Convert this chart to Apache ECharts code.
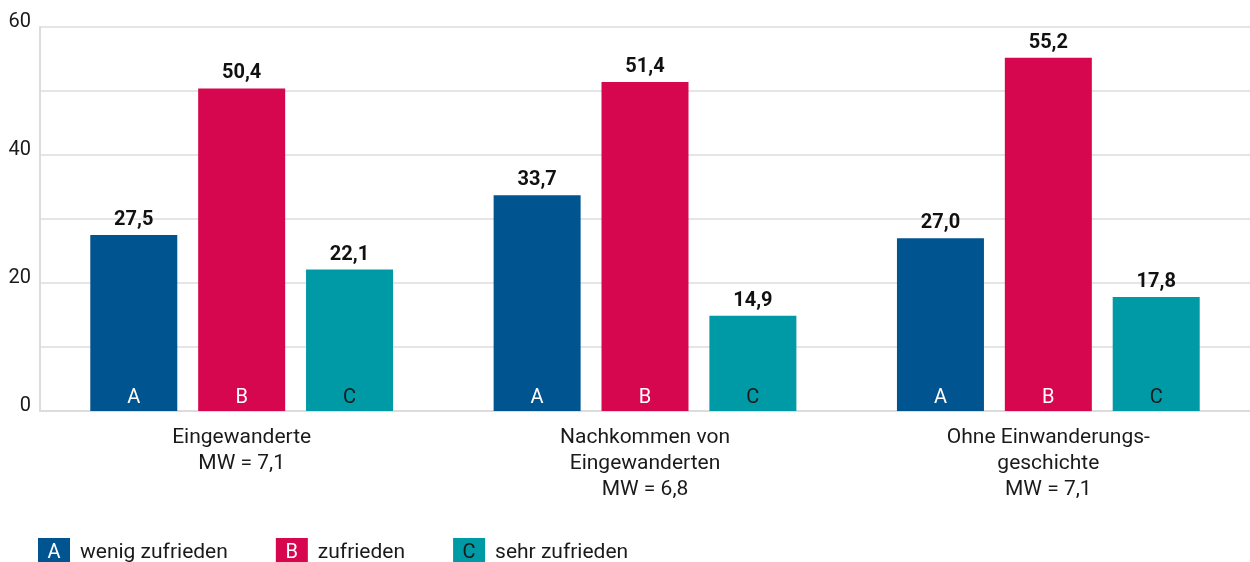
<!DOCTYPE html>
<html>
<head>
<meta charset="utf-8">
<script src="https://cdn.jsdelivr.net/npm/echarts@6/dist/echarts.min.js"></script>
<style>
  html, body { margin: 0; padding: 0; background: #fff; }
  #chart { width: 1250px; height: 562px; }
</style>
</head>
<body>
<div id="chart"></div>
<script>
var categories = ['Eingewanderte\nMW = 7,1', 'Nachkommen von\nEingewanderten\nMW = 6,8', 'Ohne Einwanderungs-\ngeschichte\nMW = 7,1'];
var seriesNames = ['wenig zufrieden', 'zufrieden', 'sehr zufrieden'];
var letters = ['A', 'B', 'C'];
var valuesA = [27.5, 33.7, 27.0];
var valuesB = [50.4, 51.4, 55.2];
var valuesC = [22.1, 14.9, 17.8];
var colors = ['#005591', '#d6064f', '#0099a6'];
var letterColors = ['#ffffff', '#ffffff', '#1a1a1a'];

var chartDom = document.getElementById('chart');
var chart = echarts.init(chartDom);
var option;

var font = 'Roboto';
var allValues = [valuesA, valuesB, valuesC];

// visible bars with the letter at the bottom
var series = allValues.map(function (vals, i) {
  return {
    name: seriesNames[i],
    type: 'bar',
    xAxisIndex: 0,
    data: vals,
    barWidth: 87,
    barGap: '24%',
    itemStyle: { color: colors[i] },
    label: {
      show: true,
      position: 'insideBottom',
      distance: 5,
      formatter: function () { return letters[i]; },
      color: letterColors[i],
      fontFamily: font,
      fontSize: 20,
      lineHeight: 16
    }
  };
});

// same bars on a hidden twin axis, only to carry the value labels
var topSeries = allValues.map(function (vals, i) {
  return {
    name: seriesNames[i] + '_top',
    type: 'bar',
    xAxisIndex: 1,
    data: vals,
    barWidth: 87,
    barGap: '24%',
    itemStyle: { color: 'rgba(0,0,0,0)' },
    silent: true,
    label: {
      show: true,
      position: 'top',
      distance: 5,
      color: '#111',
      fontFamily: font,
      fontWeight: 'bold',
      fontSize: 20,
      formatter: function (p) { return p.value.toFixed(1).replace('.', ','); }
    }
  };
});

var rich = {
  A: { backgroundColor: colors[0], color: '#fff', width: 32, height: 29, align: 'center', fontSize: 20, fontFamily: font },
  B: { backgroundColor: colors[1], color: '#fff', width: 32, height: 29, align: 'center', fontSize: 20, fontFamily: font },
  C: { backgroundColor: colors[2], color: '#1a1a1a', width: 32, height: 29, align: 'center', fontSize: 20, fontFamily: font },
  t: { color: '#1a1a1a', fontSize: 21, fontFamily: font, padding: [0, 0, 0, 10] }
};

option = {
  animation: false,
  grid: {
    left: 40,
    right: 0,
    top: 27,
    bottom: 151
  },
  legend: {
    data: seriesNames,
    left: 28,
    top: 533,
    icon: 'none',
    itemWidth: 0,
    itemGap: 43,
    selectedMode: false,
    formatter: function (name) {
      var i = seriesNames.indexOf(name);
      return '{' + letters[i] + '|' + letters[i] + '}{t|' + name + '}';
    },
    textStyle: { rich: rich }
  },
  xAxis: [{
    type: 'category',
    data: categories,
    axisTick: { show: false },
    axisLine: { lineStyle: { color: '#dcdcdc', width: 2 } },
    axisLabel: {
      interval: 0,
      margin: 14,
      color: '#1a1a1a',
      fontFamily: font,
      fontSize: 21,
      lineHeight: 26
    }
  }, {
    type: 'category',
    data: categories,
    show: false
  }],
  yAxis: {
    type: 'value',
    min: 0,
    max: 60,
    interval: 10,
    axisLine: { show: true, lineStyle: { color: '#dcdcdc', width: 2 } },
    axisTick: { show: false },
    splitLine: { lineStyle: { color: '#dcdcdc', width: 1.5 } },
    axisLabel: {
      margin: 9,
      color: '#1a1a1a',
      fontFamily: font,
      fontSize: 20,
      verticalAlign: 'bottom',
      lineHeight: 11,
      formatter: function (v) { return v % 20 === 0 ? String(v) : ''; }
    }
  },
  series: series.concat(topSeries)
};

option && chart.setOption(option);
</script>
</body>
</html>
